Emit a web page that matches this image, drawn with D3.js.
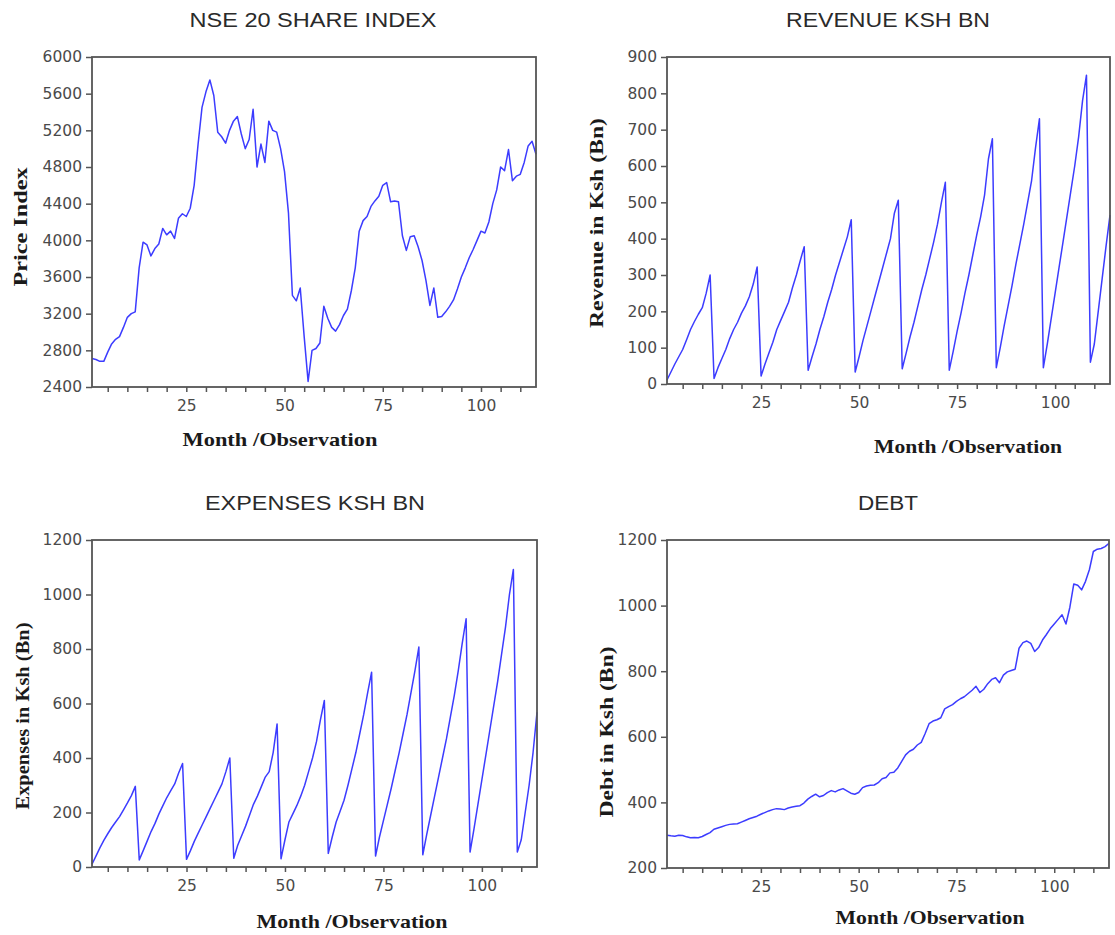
<!DOCTYPE html>
<html>
<head>
<meta charset="utf-8">
<script src="https://cdn.jsdelivr.net/npm/d3@7"></script>
<style>
  html, body { margin: 0; padding: 0; background: #fff; }
  svg { display: block; }
</style>
</head>
<body>
<svg id="chart" width="1115" height="935"></svg>
<script>
// Monthly series, observation 1..114
const nseIndex = [
  2710, 2700, 2680, 2680, 2780, 2870, 2920, 2950, 3050, 3160, 3200, 3220,
  3700, 3980, 3950, 3830, 3910, 3960, 4130, 4060, 4100, 4020, 4240, 4290,
  4260, 4350, 4600, 5050, 5450, 5620, 5750, 5580, 5180, 5130, 5060, 5200,
  5300, 5350, 5160, 5000, 5100, 5430, 4800, 5050, 4850, 5300, 5200, 5180,
  5000, 4750, 4300, 3400, 3340, 3480, 2950, 2460, 2800, 2820, 2880, 3280,
  3150, 3050, 3010, 3080, 3180, 3250, 3450, 3700, 4100, 4215, 4260, 4370,
  4430, 4480, 4600, 4630, 4420, 4430, 4420, 4050, 3890, 4040, 4050, 3930,
  3780, 3560, 3290, 3480, 3160, 3170, 3220, 3280, 3350, 3470, 3600, 3700,
  3810, 3900, 4000, 4100, 4080, 4200, 4400, 4550, 4800, 4760, 4990, 4650,
  4700, 4720, 4850, 5030, 5080, 4940
];

const revenue = [
  11, 33, 55, 75, 95, 122, 150, 172, 192, 210, 250, 300,
  15, 45, 70, 95, 125, 150, 170, 195, 215, 240, 275, 322,
  22, 55, 85, 115, 150, 175, 200, 225, 265, 300, 340, 378,
  38, 75, 110, 150, 185, 225, 260, 300, 335, 370, 405, 452,
  33, 75, 120, 160, 200, 240, 280, 320, 360, 400, 470, 506,
  42, 85, 130, 170, 215, 260, 300, 345, 390, 440, 500, 555,
  38, 90, 145, 195, 250, 300, 355, 410, 460, 520, 620, 675,
  45, 100, 160, 215, 270, 330, 385, 440, 500, 560, 650, 730,
  45, 110, 180, 250, 320, 390, 460, 530, 600, 680, 780, 850,
  60, 110, 200, 290, 380, 465
];

const expenses = [
  10, 40, 70, 98, 122, 145, 165, 185, 210, 235, 262, 296,
  26, 60, 95, 130, 160, 195, 225, 255, 280, 305, 345, 380,
  28, 60, 95, 125, 155, 185, 215, 245, 275, 305, 350, 400,
  32, 80, 115, 150, 190, 230, 260, 295, 330, 350, 420, 525,
  30, 100, 165, 195, 225, 260, 300, 350, 400, 460, 540, 611,
  50, 110, 165, 205, 245, 300, 360, 420, 490, 560, 640, 715,
  40, 110, 170, 230, 290, 355, 420, 490, 560, 640, 720, 807,
  45, 120, 190, 260, 330, 400, 470, 550, 630, 720, 820, 911,
  55, 140, 230, 320, 410, 500, 590, 680, 780, 880, 1000, 1092,
  55, 100, 200, 300, 420, 568
];

const debt = [
  300, 298, 297, 300, 299, 295, 292, 293, 292, 296, 302, 308,
  318, 322, 326, 330, 333, 334, 335, 340, 345, 350, 354, 358,
  364, 369, 374, 378, 381, 380, 378, 383, 386, 388, 390, 398,
  410, 418, 425, 417, 421, 430, 436, 432, 438, 442, 435, 428,
  425, 430, 445, 450, 452, 453, 460, 472, 476, 490, 492, 505,
  525, 545, 556, 562, 575, 583, 610, 640, 648, 652, 658, 685,
  692, 698, 708, 716, 722, 732, 742, 754, 735, 745, 762, 775,
  780, 765, 788, 798, 802, 806, 870, 887, 892, 885, 860, 872,
  895, 912, 930, 944, 958, 972, 944, 995, 1066, 1062, 1048, 1074,
  1110, 1165, 1172, 1174, 1180, 1190
];

// Axis ticks
const xMinorTicks = [5, 10, 15, 20, 25, 30, 35, 40, 45, 50, 55, 60, 65, 70, 75,
                     80, 85, 90, 95, 100, 105, 110];
const xTickLabels = [25, 50, 75, 100];
const nseTicks = [2400, 2800, 3200, 3600, 4000, 4400, 4800, 5200, 5600, 6000];
const revenueTicks = [0, 100, 200, 300, 400, 500, 600, 700, 800, 900];
const expensesTicks = [0, 200, 400, 600, 800, 1000, 1200];
const debtTicks = [200, 400, 600, 800, 1000, 1200];

const panels = [
  { title: "NSE 20 SHARE INDEX", values: nseIndex, yTicks: nseTicks,
    yLabel: "Price Index", xLabel: "Month  /Observation",
    box: { left: 92, right: 536, top: 57, bottom: 387 },
    titlePos: [313, 27, 247], yLabelPos: [21, 227, 119], xLabelPos: [280, 446, 195] },
  { title: "REVENUE KSH BN", values: revenue, yTicks: revenueTicks,
    yLabel: "Revenue in Ksh (Bn)", xLabel: "Month /Observation",
    box: { left: 667, right: 1110, top: 57, bottom: 384 },
    titlePos: [888, 27, 204], yLabelPos: [597, 223, 210], xLabelPos: [968, 453, 188] },
  { title: "EXPENSES KSH BN", values: expenses, yTicks: expensesTicks,
    yLabel: "Expenses in Ksh (Bn)", xLabel: "Month /Observation",
    box: { left: 92, right: 537, top: 540, bottom: 867 },
    titlePos: [315, 510, 220], yLabelPos: [23, 716, 187], xLabelPos: [352, 928, 191] },
  { title: "DEBT", values: debt, yTicks: debtTicks,
    yLabel: "Debt in Ksh (Bn)", xLabel: "Month /Observation",
    box: { left: 667, right: 1109, top: 540, bottom: 868 },
    titlePos: [888, 510, 60], yLabelPos: [607, 732, 171], xLabelPos: [930, 924, 189] }
];

const svg = d3.select("#chart");
const lineColor = "#3c3cff";
const frameColor = "#555";
const tickTextColor = "#4a4a4a";

panels.forEach(p => {
  const b = p.box;
  const x = d3.scaleLinear().domain([1, p.values.length]).range([b.left, b.right]);
  const y = d3.scaleLinear().domain(d3.extent(p.yTicks)).range([b.bottom, b.top]);
  const g = svg.append("g");

  // Title
  g.append("text")
    .attr("x", p.titlePos[0]).attr("y", p.titlePos[1])
    .attr("text-anchor", "middle")
    .attr("textLength", p.titlePos[2]).attr("lengthAdjust", "spacingAndGlyphs")
    .style("font-family", "'Liberation Sans', Arial, sans-serif")
    .style("font-size", "20px")
    .style("fill", "#2a2a2a")
    .text(p.title);

  // Y axis
  const yAxis = g.append("g")
    .attr("transform", `translate(${b.left},0)`)
    .call(d3.axisLeft(y).tickValues(p.yTicks).tickSize(6).tickPadding(4).tickFormat(d3.format("d")));
  // X axis
  const xAxis = g.append("g")
    .attr("transform", `translate(0,${b.bottom})`)
    .call(d3.axisBottom(x).tickValues(xMinorTicks).tickSize(5).tickPadding(8)
      .tickFormat(d => xTickLabels.includes(d) ? d : ""));

  [yAxis, xAxis].forEach(a => {
    a.select(".domain").remove();
    a.selectAll(".tick line").attr("stroke", frameColor).attr("stroke-width", 1.5);
    a.selectAll(".tick text")
      .style("font-family", "'DejaVu Sans', sans-serif")
      .style("font-size", "15.5px")
      .style("fill", tickTextColor);
  });

  // Series line
  g.append("path")
    .datum(p.values)
    .attr("fill", "none")
    .attr("stroke", lineColor)
    .attr("stroke-width", 1.5)
    .attr("stroke-linejoin", "round")
    .attr("d", d3.line().x((d, i) => x(i + 1)).y(d => y(d)));

  // Plot frame
  g.append("rect")
    .attr("x", b.left).attr("y", b.top)
    .attr("width", b.right - b.left).attr("height", b.bottom - b.top)
    .attr("fill", "none").attr("stroke", frameColor).attr("stroke-width", 1.8);

  // Axis titles
  g.append("text")
    .attr("transform", `translate(${p.yLabelPos[0]},${p.yLabelPos[1]}) rotate(-90)`)
    .attr("text-anchor", "middle").attr("dy", "0.35em")
    .attr("textLength", p.yLabelPos[2]).attr("lengthAdjust", "spacingAndGlyphs")
    .style("font-family", "'Liberation Serif', 'Times New Roman', serif")
    .style("font-weight", "bold").style("font-size", "18px")
    .style("fill", "#1a1a1a")
    .text(p.yLabel);

  g.append("text")
    .attr("x", p.xLabelPos[0]).attr("y", p.xLabelPos[1])
    .attr("text-anchor", "middle")
    .attr("textLength", p.xLabelPos[2]).attr("lengthAdjust", "spacingAndGlyphs")
    .style("font-family", "'Liberation Serif', 'Times New Roman', serif")
    .style("font-weight", "bold").style("font-size", "19px")
    .style("fill", "#1a1a1a")
    .text(p.xLabel);
});
</script>
</body>
</html>
